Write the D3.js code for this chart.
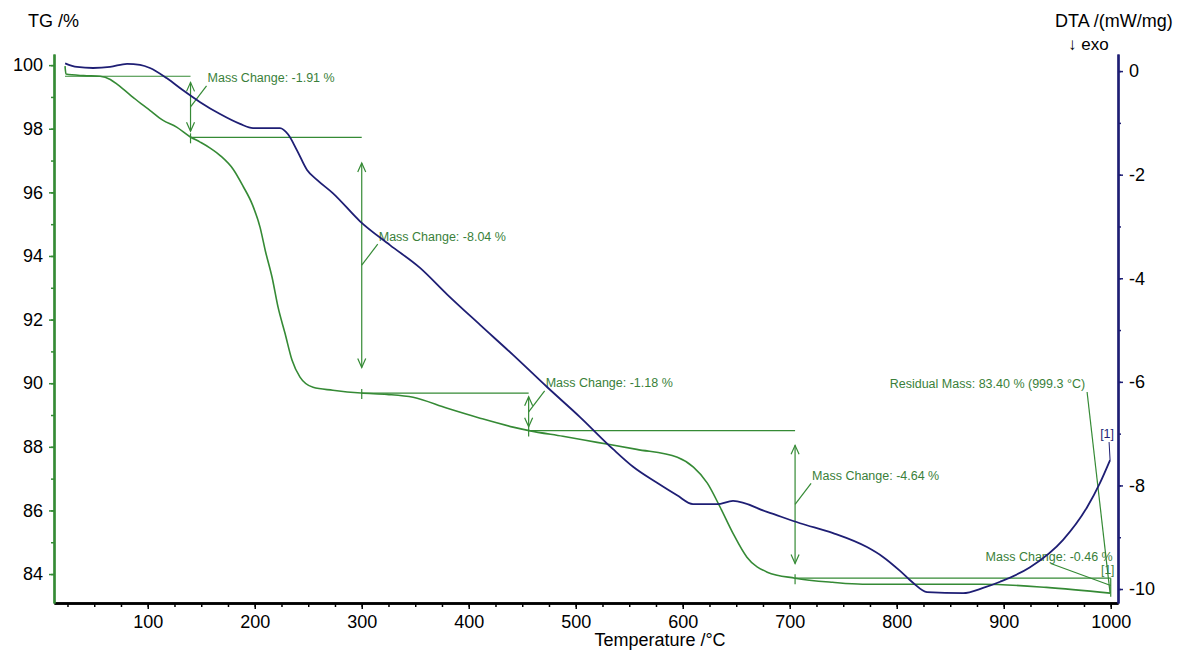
<!DOCTYPE html>
<html>
<head>
<meta charset="utf-8">
<script src="https://cdn.jsdelivr.net/npm/d3@7"></script>
<style>
  body { margin: 0; background: #fff; }
  text { font-family: Arial, "Liberation Sans", sans-serif; }
</style>
</head>
<body>
<div id="chart"></div>
<script>
// TG curve (temperature in °C, mass in %)
const tgTemp = [22.7, 23.6, 40, 55.5, 65, 71.3, 78, 86.3, 94, 102, 114, 127, 139.5, 149, 158, 168, 180, 189, 198, 205,
  210, 216.2, 221.8, 228.3, 234.9, 242.3, 254.5, 273, 299.3, 323.6, 348, 380, 410.6, 441.4, 456.4, 488, 520, 557, 595, 610,
  623, 635, 647, 660, 679, 705, 740, 768, 880, 940, 999.4];
const tgMass = [99.97, 99.72, 99.67, 99.65, 99.55, 99.40, 99.22, 98.99, 98.78, 98.58, 98.27, 98.05, 97.75, 97.58, 97.40, 97.15, 96.72, 96.20, 95.60, 94.90,
  94.15, 93.33, 92.39, 91.57, 90.72, 90.19, 89.87, 89.78, 89.69, 89.65, 89.56, 89.21, 88.90, 88.62, 88.51, 88.33, 88.14, 87.92, 87.67, 87.36,
  86.86, 86.10, 85.28, 84.53, 84.06, 83.87, 83.74, 83.68, 83.68, 83.58, 83.40];

// DTA curve (temperature in °C, signal in mW/mg)
const dtaTemp = [22.8, 33.9, 48.9, 64.8, 80.7, 92.8, 102.1, 118, 133, 149, 167.6, 186.3, 198.4, 211.5, 223.6, 231.1, 239.5, 248.9, 258.2, 273.2,
  298.4, 326.4, 354.5, 379.7, 410.6, 441.4, 473.2, 504, 534.9, 553.6, 576, 594.7, 609.6, 632.1, 647, 678.8, 709.6, 740.5, 772.2, 787.2,
  803.1, 815.2, 828.3, 862, 880.7, 896.6, 924.6, 955.5, 977.9, 990, 999.4];
const dtaSignal = [0.15, 0.08, 0.06, 0.08, 0.14, 0.12, 0.06, -0.14, -0.37, -0.60, -0.83, -1.02, -1.10, -1.10, -1.10, -1.22, -1.53, -1.91, -2.10, -2.36,
  -2.90, -3.36, -3.80, -4.31, -4.90, -5.48, -6.10, -6.68, -7.30, -7.64, -7.95, -8.19, -8.36, -8.36, -8.30, -8.51, -8.73, -8.92, -9.19, -9.38,
  -9.65, -9.88, -10.06, -10.08, -9.98, -9.86, -9.58, -9.05, -8.42, -7.95, -7.51];

// mass change steps
const stepTemps = [140, 300, 456, 705, 1000];
const stepLevels = [99.65, 97.73, 89.69, 88.51, 83.87, 83.41];
const stepLabels = ["Mass Change: -1.91 %", "Mass Change: -8.04 %", "Mass Change: -1.18 %",
  "Mass Change: -4.64 %", "Mass Change: -0.46 %"];
const residualLabel = "Residual Mass: 83.40 % (999.3 °C)";
const curveTag = "[1]";

// ticks
const xTicks = [100, 200, 300, 400, 500, 600, 700, 800, 900, 1000];
const tgTicks = [84, 86, 88, 90, 92, 94, 96, 98, 100];
const dtaTicks = [0, -2, -4, -6, -8, -10];

const W = 1197, H = 657;
const plotLeft = 54, plotRight = 1118, plotTop = 54, plotBottom = 603;

const green = "#358a35", navy = "#1e1e74", annText = "#3a7f3a";

const svg = d3.select("#chart").append("svg")
  .attr("width", W).attr("height", H)
  .style("background", "#fff");

const x = d3.scaleLinear().domain([12.4, 1006.8]).range([plotLeft, plotRight]);
const yTG = d3.scaleLinear().domain([83.09, 100.35]).range([plotBottom, plotTop]);
const yDTA = d3.scaleLinear().domain([-10.27, 0.33]).range([plotBottom, plotTop]);

// ---- axes ----
function styleAxis(g, color, width) {
  g.select(".domain").attr("stroke", color).attr("stroke-width", width);
  g.selectAll(".tick line").attr("stroke", color).attr("stroke-width", 1.5);
  g.selectAll(".tick text").attr("fill", "#000").style("font-size", "18px");
}

// bottom
svg.append("g").attr("transform", "translate(0," + plotBottom + ")")
  .call(d3.axisBottom(x).tickValues(d3.range(25, 1001, 25)).tickSize(4).tickSizeOuter(0).tickFormat(""))
  .call(g => styleAxis(g, "#000", 2.5));
svg.append("g").attr("transform", "translate(0," + plotBottom + ")")
  .call(d3.axisBottom(x).tickValues(xTicks).tickSize(6).tickSizeOuter(0).tickPadding(6).tickFormat(d => String(d)))
  .call(g => styleAxis(g, "#000", 2.5));

// left (TG)
svg.append("g").attr("transform", "translate(" + plotLeft + ",0)")
  .call(d3.axisLeft(yTG).tickValues(d3.range(84, 101, 1)).tickSize(3).tickSizeOuter(0).tickFormat(""))
  .call(g => styleAxis(g, green, 2.2));
svg.append("g").attr("transform", "translate(" + plotLeft + ",0)")
  .call(d3.axisLeft(yTG).tickValues(tgTicks).tickSize(5).tickSizeOuter(0).tickPadding(6))
  .call(g => styleAxis(g, green, 2.2));

// right (DTA)
svg.append("g").attr("transform", "translate(" + plotRight + ",0)")
  .call(d3.axisRight(yDTA).tickValues(d3.range(-10, 1, 1)).tickSize(3).tickSizeOuter(0).tickFormat(""))
  .call(g => styleAxis(g, navy, 2.2));
svg.append("g").attr("transform", "translate(" + plotRight + ",0)")
  .call(d3.axisRight(yDTA).tickValues(dtaTicks).tickSize(5).tickSizeOuter(0).tickPadding(6).tickFormat(d => String(d)))
  .call(g => styleAxis(g, navy, 2.2));

// axis titles
svg.append("text").attr("x", 28).attr("y", 27).style("font-size", "18px").text("TG /%");
svg.append("text").attr("x", 1055).attr("y", 27).style("font-size", "18px").text("DTA /(mW/mg)");
svg.append("text").attr("x", 1068).attr("y", 50).style("font-size", "17px").text("\u2193 exo");
svg.append("text").attr("x", 660).attr("y", 646).attr("text-anchor", "middle")
  .style("font-size", "18px").text("Temperature /°C");

// ---- curves ----
const tgLine = d3.line().x(d => x(d[0])).y(d => yTG(d[1])).curve(d3.curveMonotoneX);
const dtaLine = d3.line().x(d => x(d[0])).y(d => yDTA(d[1])).curve(d3.curveMonotoneX);

// ---- annotations (behind curves) ----
const ann = svg.append("g").attr("stroke", green).attr("stroke-width", 1.2).attr("fill", "none");

stepTemps.forEach((t, i) => {
  const xa = x(t);
  const yTop = yTG(stepLevels[i]);
  const yBot = yTG(stepLevels[i + 1]);
  // level line up to this step
  const t0 = i === 0 ? tgTemp[0] : stepTemps[i - 1];
  ann.append("line").attr("x1", x(t0)).attr("x2", xa).attr("y1", yTop).attr("y2", yTop);
  // double arrow
  const span = yBot - yTop;
  const a1 = yTop + 0.1 * span, a2 = yBot - 0.1 * span;
  ann.append("line").attr("x1", xa).attr("x2", xa).attr("y1", i < 4 ? a1 : yTop).attr("y2", i < 4 ? a2 : yBot + 4);
  if (span > 20) {
    ann.append("path").attr("d", `M${xa - 4},${a1 + 9}L${xa},${a1}L${xa + 4},${a1 + 9}`);
    ann.append("path").attr("d", `M${xa - 4},${a2 - 9}L${xa},${a2}L${xa + 4},${a2 - 9}`);
  }
  // marker tick on the curve
  if (i < 4) ann.append("line").attr("x1", xa).attr("x2", xa).attr("y1", yBot - 4).attr("y2", yBot + 6);
  // leader + label
  const ym = (yTop + yBot) / 2;
  if (i < 4) {
    ann.append("line").attr("x1", xa).attr("y1", ym).attr("x2", xa + 16).attr("y2", ym - 21);
    svg.append("text").attr("x", xa + 17).attr("y", ym - 24.5)
      .attr("fill", annText).style("font-size", "12.5px").text(stepLabels[i]);
  } else {
    ann.append("line").attr("x1", xa - 60).attr("y1", ym - 22).attr("x2", xa).attr("y2", ym);
    svg.append("text").attr("x", xa + 2).attr("y", ym - 25)
      .attr("text-anchor", "end").attr("fill", annText).style("font-size", "12.5px").text(stepLabels[i]);
    svg.append("text").attr("x", xa - 3).attr("y", ym - 12)
      .attr("text-anchor", "middle").attr("fill", annText).style("font-size", "12px").text(curveTag);
  }
});

// residual mass
const tgEnd = [tgTemp[tgTemp.length - 1], tgMass[tgMass.length - 1]];
ann.append("line").attr("x1", x(tgEnd[0]) - 23).attr("y1", 392).attr("x2", x(tgEnd[0])).attr("y2", yTG(tgEnd[1]));
svg.append("text").attr("x", x(tgEnd[0]) - 25).attr("y", 387.5).attr("text-anchor", "end")
  .attr("fill", annText).style("font-size", "12.5px").text(residualLabel);

// curves
svg.append("path").datum(tgTemp.map((t, i) => [t, tgMass[i]]))
  .attr("fill", "none").attr("stroke", green).attr("stroke-width", 1.6).attr("d", tgLine);
svg.append("path").datum(dtaTemp.map((t, i) => [t, dtaSignal[i]]))
  .attr("fill", "none").attr("stroke", navy).attr("stroke-width", 1.8).attr("d", dtaLine);

// DTA curve tag
const dtaEnd = [dtaTemp[dtaTemp.length - 1], dtaSignal[dtaSignal.length - 1]];
svg.append("line").attr("x1", x(dtaEnd[0]) - 1).attr("y1", yDTA(dtaEnd[1]) - 18)
  .attr("x2", x(dtaEnd[0])).attr("y2", yDTA(dtaEnd[1])).attr("stroke", navy).attr("stroke-width", 1);
svg.append("text").attr("x", x(dtaEnd[0]) - 3).attr("y", yDTA(dtaEnd[1]) - 22).attr("text-anchor", "middle")
  .attr("fill", navy).style("font-size", "12.5px").text(curveTag);
</script>
</body>
</html>
